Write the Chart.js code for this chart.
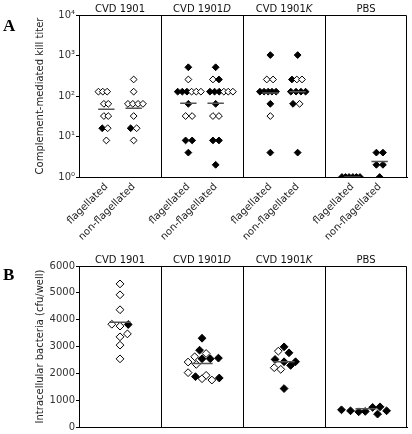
<!DOCTYPE html>
<html><head><meta charset="utf-8">
<script src="https://cdn.jsdelivr.net/npm/chart.js@4.4.0/dist/chart.umd.min.js"></script>
<style>
html,body{margin:0;padding:0;background:#fff;}
#wrap{position:relative;width:412px;height:434px;overflow:hidden;background:#fff;}
canvas{position:absolute;left:0;}
#ca{top:0;} #cb{top:240px;}
</style></head><body>
<div id="wrap"><canvas id="ca" width="412" height="240"></canvas><canvas id="cb" width="412" height="194"></canvas></div>
<script>
// ---------- data ----------
const strainNames = ['CVD 1901', 'CVD 1901', 'CVD 1901', 'PBS'];
const strainSuffix = ['', 'D', 'K', ''];
const titerCategories = ['flagellated', 'non-flagellated'];
const titerTicks = [1, 10, 100, 1000, 10000];
const titerTickLabels = ['10\u2070', '10\u00B9', '10\u00B2', '10\u00B3', '10\u2074'];
const invasionTicks = [0, 1000, 2000, 3000, 4000, 5000, 6000];

// Panel A points: [kill titer, horizontal jitter, filled (1) / open (0)]
const titer1901Flag = [[128,-0.29,0],[128,-0.13,0],[128,0.03,0],[64,-0.09,0],[64,0.07,0],[32,-0.09,0],[32,0.07,0],[16,-0.15,1],[16,0.05,0],[8,0,0]];
const titer1901NonFlag = [[256,0,0],[128,0,0],[64,-0.21,0],[64,-0.03,0],[64,0.16,0],[64,0.34,0],[32,0,0],[16,-0.11,1],[16,0.11,0],[8,0,0]];
const titer1901DFlag = [[512,0,1],[256,0,0],[128,-0.39,1],[128,-0.22,1],[128,-0.05,1],[128,0.12,0],[128,0.29,0],[128,0.46,0],[64,0,1],[32,-0.1,0],[32,0.14,0],[8,-0.1,1],[8,0.14,1],[4,0,1]];
const titer1901DNonFlag = [[512,0,1],[256,-0.1,0],[256,0.12,1],[128,-0.21,1],[128,-0.04,1],[128,0.13,1],[128,0.3,0],[128,0.46,0],[128,0.63,0],[64,0,1],[32,-0.1,0],[32,0.12,0],[8,-0.1,1],[8,0.12,1],[2,0,1]];
const titer1901KFlag = [[1024,0,1],[256,-0.13,0],[256,0.1,0],[128,-0.38,1],[128,-0.23,1],[128,-0.08,1],[128,0.06,1],[128,0.21,1],[64,0,1],[32,0,0],[4,0,1]];
const titer1901KNonFlag = [[1024,0,1],[256,-0.21,1],[256,-0.03,0],[256,0.16,0],[128,-0.25,1],[128,-0.06,1],[128,0.12,1],[128,0.29,1],[64,-0.17,1],[64,0.07,0],[4,0,1]];
const titerPBSFlag = [[1,-0.38,1],[1,-0.25,1],[1,-0.12,1],[1,0.02,1],[1,0.15,1],[1,0.28,1]];
const titerPBSNonFlag = [[4,-0.12,1],[4,0.12,1],[2,-0.12,1],[2,0.12,1],[1,0,1]];
const titerMeans = [47, 50, 66, 66, 118, 128, 1, 2.4];

// Panel B points: [cfu/well, horizontal jitter, filled (1) / open (0)]
const invasion1901 = [[5333,0,0],[4926,0,0],[4370,0,0],[3830,-0.1,0],[3760,0,0],[3820,0.1,1],[3470,0.09,0],[3360,0,0],[3050,0,0],[2540,0,0]];
const invasion1901D = [[3307,0,1],[2863,-0.03,1],[2617,-0.09,0],[2740,0.05,0],[2543,0,1],[2543,0.1,1],[2567,0.2,1],[2420,-0.17,0],[2333,-0.07,0],[2025,-0.17,0],[1877,-0.08,1],[1800,0,0],[1925,0.05,0],[1750,0.12,0],[1827,0.21,1]];
const invasion1901K = [[2827,-0.07,0],[2988,0,1],[2765,0.06,1],[2519,-0.11,1],[2432,0,1],[2432,0.14,1],[2296,0.08,1],[2210,-0.12,0],[2148,-0.04,0],[1432,0,1]];
const invasionPBS = [[641,-0.3,1],[604,-0.19,1],[567,-0.09,1],[580,-0.01,1],[730,0.08,1],[481,0.14,1],[752,0.17,1],[604,0.25,1]];
const invasionMeans = [3900, 2370, 2430, 680];

// ---------- build ----------
const FONT = '"DejaVu Sans", sans-serif';
const colA = i => Math.floor(i / 2) * 3 + 1 + (i % 2);
const colB = i => i + 0.5;
function buildPoints(cols, cx) {
  const out = [];
  cols.forEach((col, i) => col.forEach(([v, j, f]) => out.push({x: cx(i) + j, y: v, f: f})));
  return out;
}
function buildMeans(means, cx, half) {
  const out = [];
  means.forEach((m, i) => { const c = cx(i); out.push({x: c - half, y: m}, {x: c + half, y: m}, {x: c + 0.49, y: null}); });
  return out;
}
const ptsA = buildPoints([titer1901Flag, titer1901NonFlag, titer1901DFlag, titer1901DNonFlag, titer1901KFlag, titer1901KNonFlag, titerPBSFlag, titerPBSNonFlag], colA);
const meanA = buildMeans(titerMeans, colA, 0.3);
const ptsB = buildPoints([invasion1901, invasion1901D, invasion1901K, invasionPBS], colB);
const meanB = buildMeans(invasionMeans, colB, 0.13);

const panelPlugin = {
  id: 'panels',
  beforeDatasetsDraw(chart, args, o) {
    const ctx = chart.ctx, a = chart.chartArea, xs = chart.scales.x;
    ctx.save();
    ctx.strokeStyle = '#000'; ctx.lineWidth = 1;
    ctx.beginPath();
    o.dividers.forEach(d => { const px = Math.round(xs.getPixelForValue(d)) + 0.5; ctx.moveTo(px, a.top); ctx.lineTo(px, a.bottom); });
    const t = Math.round(a.top) + 0.5, r = Math.round(a.right) - 0.5;
    ctx.moveTo(a.left, t); ctx.lineTo(r, t); ctx.lineTo(r, a.bottom);
    ctx.stroke();
    ctx.restore();
  },
  afterDraw(chart, args, o) {
    const ctx = chart.ctx, xs = chart.scales.x;
    ctx.save();
    ctx.fillStyle = '#111';
    ctx.textBaseline = 'alphabetic';
    o.centers.forEach((c, i) => {
      const px = xs.getPixelForValue(c);
      const f1 = '10px ' + FONT, f2 = 'italic 10px ' + FONT;
      ctx.font = f1; const w1 = ctx.measureText(strainNames[i]).width;
      ctx.font = f2; const w2 = ctx.measureText(strainSuffix[i]).width;
      const x0 = px - (w1 + w2) / 2;
      ctx.textAlign = 'left';
      ctx.font = f1; ctx.fillText(strainNames[i], x0, o.titleY);
      ctx.font = f2; ctx.fillText(strainSuffix[i], x0 + w1, o.titleY);
    });
    ctx.font = 'bold 17px "Liberation Serif", "DejaVu Serif", serif';
    ctx.fillStyle = '#000';
    ctx.fillText(o.letter, o.letterX, o.letterY);
    ctx.restore();
  }
};

function scatterDatasets(points, means, radius) {
  return [
    {type: 'line', data: means, borderColor: '#555', borderWidth: 1.5, pointRadius: 0, spanGaps: false, order: 0, parsing: false},
    {type: 'scatter', data: points, pointStyle: 'rectRot', pointRadius: radius, pointHoverRadius: radius,
     pointBorderColor: '#000', pointBorderWidth: 1,
     pointBackgroundColor: c => (c.raw && c.raw.f) ? '#000' : '#fff', order: 1}
  ];
}

const common = {
  responsive: false, devicePixelRatio: 1, animation: false,
  events: [],
};

new Chart(document.getElementById('ca'), {
  data: {datasets: scatterDatasets(ptsA, meanA, 3.4)},
  plugins: [panelPlugin],
  options: Object.assign({}, common, {
    layout: {padding: {left: 0, right: 5, top: 15, bottom: 0}},
    plugins: {legend: {display: false}, tooltip: {enabled: false},
      panels: {dividers: [3, 6, 9], centers: [1.5, 4.5, 7.5, 10.5], titleY: 12, letter: 'A', letterX: 3, letterY: 31}},
    scales: {
      x: {type: 'linear', min: 0, max: 12,
        afterBuildTicks: s => { s.ticks = [1, 2, 4, 5, 7, 8, 10, 11].map(v => ({value: v})); },
        afterFit: s => { s.height = 63; },
        grid: {display: true, drawOnChartArea: false, drawTicks: false},
        border: {display: true, color: '#000', width: 1},
        ticks: {autoSkip: false, maxRotation: 45, minRotation: 45, padding: 4, color: '#222',
          font: {family: FONT, size: 10},
          callback: v => titerCategories[(Math.round(v) - 1) % 3]}
      },
      y: {type: 'logarithmic', min: 1, max: 10000,
        afterBuildTicks: s => { s.ticks = titerTicks.map(v => ({value: v})); },
        afterFit: s => { s.width = 79; },
        grid: {display: true, drawOnChartArea: false, drawTicks: true, tickLength: 3, color: '#000'},
        border: {display: true, color: '#000', width: 1},
        ticks: {padding: 1, color: '#333', font: {family: FONT, size: 10},
          callback: v => { const k = titerTicks.indexOf(v); return k >= 0 ? titerTickLabels[k] : ''; }},
        title: {display: true, text: 'Complement-mediated kill titer', color: '#222',
          font: {family: FONT, size: 10}, padding: {top: 34, bottom: 0}}
      }
    }
  })
});

new Chart(document.getElementById('cb'), {
  data: {datasets: scatterDatasets(ptsB, meanB, 3.9)},
  plugins: [panelPlugin],
  options: Object.assign({}, common, {
    layout: {padding: {left: 0, right: 3, top: 26, bottom: 6}},
    plugins: {legend: {display: false}, tooltip: {enabled: false},
      panels: {dividers: [1, 2, 3], centers: [0.5, 1.5, 2.5, 3.5], titleY: 23, letter: 'B', letterX: 3, letterY: 40}},
    scales: {
      x: {type: 'linear', min: 0, max: 4,
        afterFit: s => { s.height = 0; },
        grid: {display: true, drawOnChartArea: false, drawTicks: false},
        border: {display: true, color: '#000', width: 1},
        ticks: {display: false}
      },
      y: {type: 'linear', min: 0, max: 6000,
        afterBuildTicks: s => { s.ticks = invasionTicks.map(v => ({value: v})); },
        afterFit: s => { s.width = 79; },
        grid: {display: true, drawOnChartArea: false, drawTicks: true, tickLength: 3, color: '#000'},
        border: {display: true, color: '#000', width: 1},
        ticks: {padding: 1, color: '#333', font: {family: FONT, size: 10}, callback: v => String(v)},
        title: {display: true, text: 'Intracellular bacteria (cfu/well)', color: '#222',
          font: {family: FONT, size: 10}, padding: {top: 34, bottom: 0}}
      }
    }
  })
});
</script>
</body></html>
